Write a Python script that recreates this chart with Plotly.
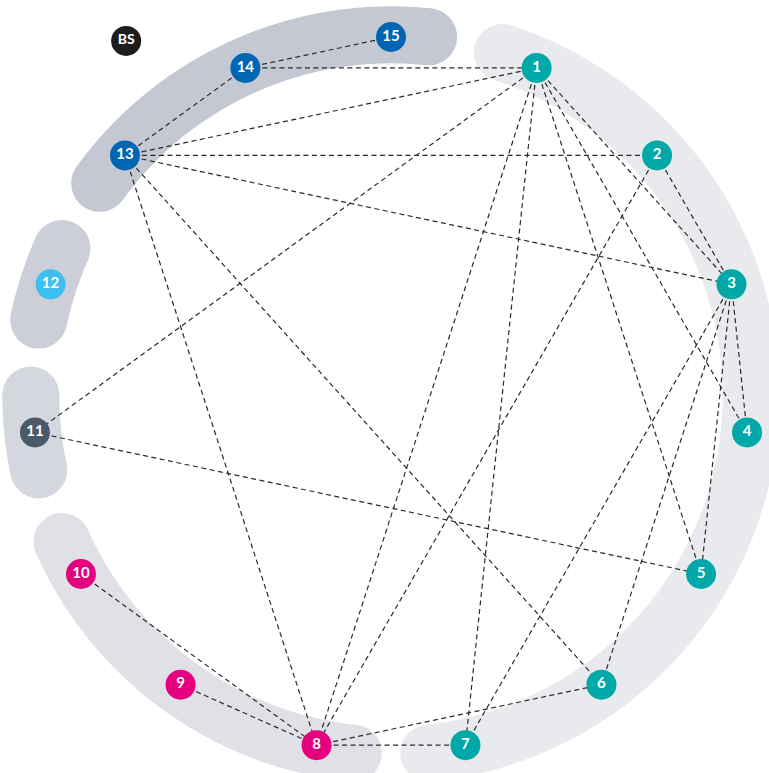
import math
import plotly.graph_objects as go

# ---- data ----
nodes = list(range(1, 16))
node_colors = {
    1: "#00a8a8", 2: "#00a8a8", 3: "#00a8a8", 4: "#00a8a8", 5: "#00a8a8",
    6: "#00a8a8", 7: "#00a8a8",
    8: "#e5007e", 9: "#e5007e", 10: "#e5007e",
    11: "#4a5a6b", 12: "#3dbfef",
    13: "#0066b3", 14: "#0066b3", 15: "#0066b3",
}
groups = [[13, 14, 15], [12], [11], [8, 9, 10], [1, 2, 3, 4, 5, 6, 7]]
group_colors = ["#c3c8d2", "#cccfd8", "#d4d7de", "#dfe1e6", "#e9eaee"]
edges = [
    (14, 15), (14, 1), (14, 13), (13, 1), (13, 2), (13, 3), (13, 8), (13, 6),
    (1, 11), (1, 8), (1, 7), (1, 5), (1, 4), (1, 3), (2, 3), (2, 8),
    (3, 4), (3, 5), (3, 6), (3, 7), (11, 5), (10, 8), (9, 8), (8, 7), (8, 6),
]
badge_label = "BS"
badge_r, badge_angle = 1.235, 126.8

# ---- layout helpers ----
STEP = 360 / len(nodes)
R_NODE = 1.0
R_BAND = 1.006
PAD = 6  # degrees of band beyond first/last node


def angle(n):
    return 90 - STEP * n


def pos(r, a):
    t = math.radians(a)
    return r * math.cos(t), r * math.sin(t)


fig = go.Figure()

# bands
for grp, col in zip(groups, group_colors):
    a0 = angle(min(grp)) + PAD
    a1 = angle(max(grp)) - PAD
    n = int(abs(a0 - a1)) * 2 + 2
    angs = [a0 + (a1 - a0) * k / (n - 1) for k in range(n)]
    xs = [pos(R_BAND, a)[0] for a in angs]
    ys = [pos(R_BAND, a)[1] for a in angs]
    fig.add_trace(go.Scatter(x=xs, y=ys, mode="lines",
                             line=dict(color=col, width=57, simplify=False),
                             hoverinfo="skip", showlegend=False))
    fig.add_trace(go.Scatter(x=[xs[0], xs[-1]], y=[ys[0], ys[-1]], mode="markers",
                             marker=dict(color=col, size=57, line=dict(width=0)),
                             hoverinfo="skip", showlegend=False, cliponaxis=False))

# edges
ex, ey = [], []
for a, b in edges:
    xa, ya = pos(R_NODE, angle(a))
    xb, yb = pos(R_NODE, angle(b))
    ex += [xa, xb, None]
    ey += [ya, yb, None]
fig.add_trace(go.Scatter(x=ex, y=ey, mode="lines",
                         line=dict(color="#2a2a2a", width=1.2, dash="5px,3.5px"),
                         hoverinfo="skip", showlegend=False))

# nodes
nx = [pos(R_NODE, angle(n))[0] for n in nodes]
ny = [pos(R_NODE, angle(n))[1] for n in nodes]
fig.add_trace(go.Scatter(
    x=nx, y=ny, mode="markers+text", text=[str(n) for n in nodes],
    textposition="middle center",
    textfont=dict(family="Lato, Open Sans, sans-serif", size=15, color="white", weight="bold"),
    marker=dict(size=30, color=[node_colors[n] for n in nodes], line=dict(width=0)),
    cliponaxis=False, showlegend=False, hoverinfo="text"))

# badge
bx, by = pos(badge_r, badge_angle)
fig.add_trace(go.Scatter(
    x=[bx], y=[by], mode="markers+text", text=[badge_label],
    textposition="middle center",
    textfont=dict(family="Lato, Open Sans, sans-serif", size=14, color="white", weight="bold"),
    marker=dict(size=30, color="#1d1d1b", line=dict(width=0)),
    cliponaxis=False, showlegend=False, hoverinfo="text"))

W, H = 769, 773
CX, CY, SCALE = 391, 395, 358
fig.update_layout(
    width=W, height=H, margin=dict(l=0, r=0, t=0, b=0),
    paper_bgcolor="white", plot_bgcolor="white",
    xaxis=dict(range=[-CX / SCALE, (W - CX) / SCALE], visible=False, fixedrange=True),
    yaxis=dict(range=[-(H - CY) / SCALE, CY / SCALE], visible=False, fixedrange=True),
)
fig.write_html("out.html", config={"displayModeBar": False},
               post_script="document.body.style.margin='0px';document.body.style.overflow='hidden';")
